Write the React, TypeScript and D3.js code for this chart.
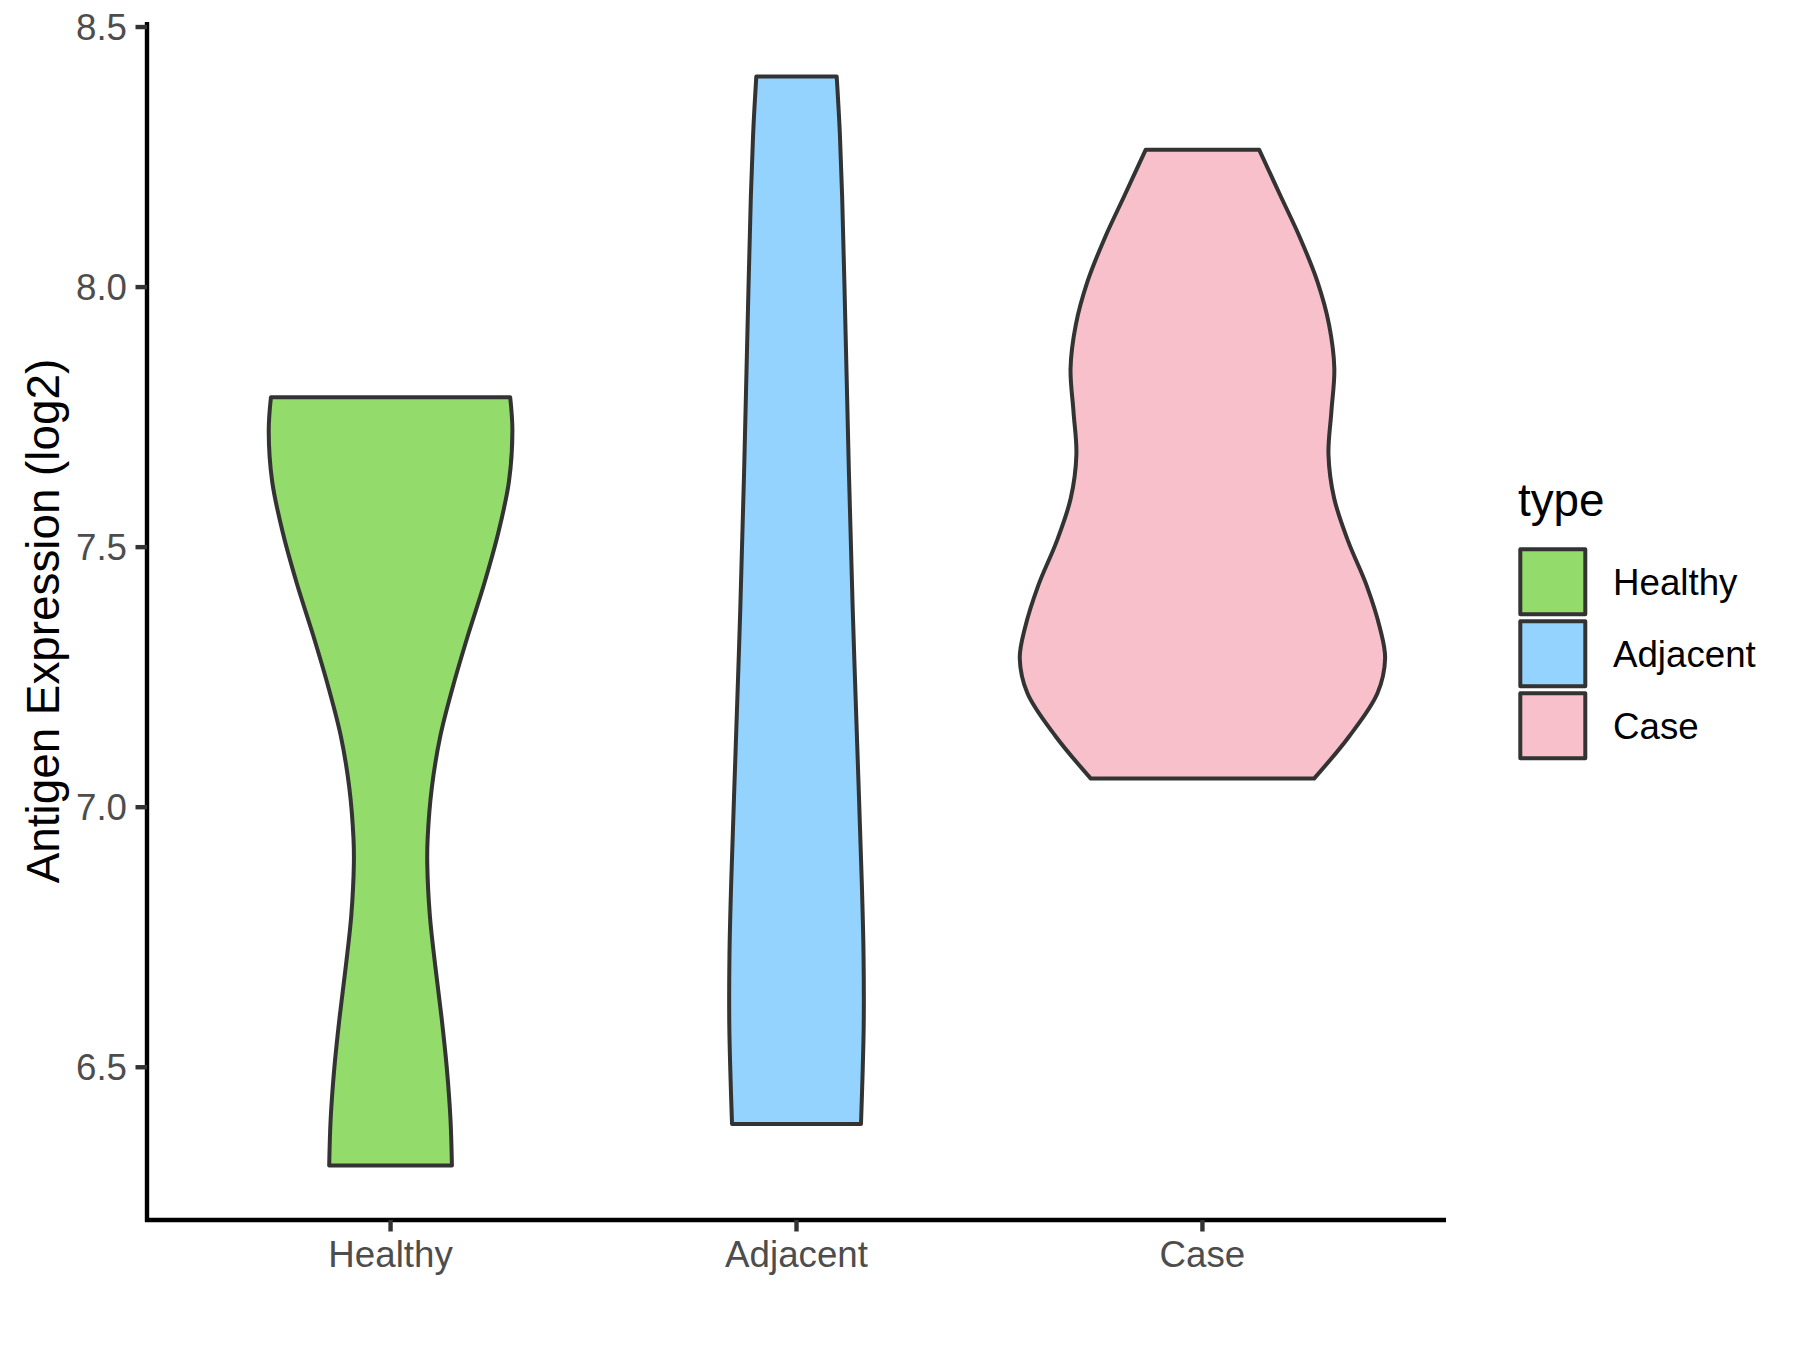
import React from "react";
import * as d3 from "d3";

const categories = ["Healthy", "Adjacent", "Case"];
const fills = ["#93DB6A", "#93D3FE", "#F7C0CB"];

// violin outlines: value (log2) and relative half-width (1 = widest)
const healthyY = [6.311, 6.4, 6.498, 6.596, 6.694, 6.792, 6.89, 6.94, 7.038, 7.136, 7.234, 7.332, 7.43, 7.528, 7.626, 7.724, 7.788];
const healthyW = [0.336, 0.328, 0.308, 0.279, 0.245, 0.215, 0.201, 0.203, 0.226, 0.272, 0.343, 0.425, 0.513, 0.59, 0.648, 0.667, 0.655];

const adjacentY = [6.391, 6.478, 6.583, 6.716, 6.849, 7.113, 7.378, 7.643, 7.908, 8.173, 8.305, 8.405];
const adjacentW = [0.353, 0.361, 0.368, 0.367, 0.358, 0.333, 0.308, 0.287, 0.269, 0.25, 0.236, 0.22];

const caseY = [7.055, 7.136, 7.219, 7.286, 7.344, 7.427, 7.511, 7.594, 7.678, 7.761, 7.844, 7.928, 8.011, 8.095, 8.178, 8.264];
const caseW = [0.611, 0.803, 0.958, 1.0, 0.972, 0.898, 0.798, 0.721, 0.69, 0.706, 0.722, 0.693, 0.629, 0.534, 0.424, 0.311];

const yTicks = [6.5, 7.0, 7.5, 8.0, 8.5];

const violins = [
  { ys: healthyY, ws: healthyW },
  { ys: adjacentY, ws: adjacentW },
  { ys: caseY, ws: caseW },
];

export default function App() {
  const W = 1800, H = 1350;
  const left = 147, right = 1446, top = 22, bottom = 1220;
  const allY = [...healthyY, ...adjacentY, ...caseY];
  const yMin = d3.min(allY) as number, yMax = d3.max(allY) as number;
  const pad = (yMax - yMin) * 0.05;
  const y = d3.scaleLinear().domain([yMin - pad, yMax + pad]).range([bottom, top]);
  const x = d3.scalePoint().domain(categories).range([left, right]).padding(0.6);
  const step = x.step();
  const wScale = d3.scaleLinear().domain([0, 1]).range([0, 0.45 * step]);
  const fmt = d3.format(".1f");
  const font = "'Liberation Sans', Arial, sans-serif";
  const stroke = "#333333";

  return (
    <svg width={W} height={H} style={{ position: "absolute", left: 0, top: 0, background: "#fff" }} fontFamily={font}>
      <rect x={0} y={0} width={W} height={H} fill="#fff" />
      {violins.map((v, i) => {
        const cx = x(categories[i]) as number;
        const pts = v.ys.map((yy, j) => ({ y: yy, w: v.ws[j] }));
        const area = d3
          .area<{ y: number; w: number }>()
          .y((d) => y(d.y))
          .x0((d) => cx - wScale(d.w))
          .x1((d) => cx + wScale(d.w))
          .curve(d3.curveCatmullRom.alpha(0.5));
        return (
          <path key={i} d={area(pts) || ""} fill={fills[i]} stroke={stroke} strokeWidth={4} strokeLinejoin="round" />
        );
      })}
      {/* axes */}
      <line x1={left} x2={left} y1={top} y2={bottom + 2} stroke="#000" strokeWidth={4.4} />
      <line x1={left - 2} x2={right} y1={bottom} y2={bottom} stroke="#000" strokeWidth={4.4} />
      {yTicks.map((t) => (
        <g key={t}>
          <line x1={left - 11.5} x2={left} y1={y(t)} y2={y(t)} stroke={stroke} strokeWidth={4.4} />
          <text x={left - 20} y={y(t)} dy="0.36em" textAnchor="end" fontSize={36.7} fill="#4D4D4D">
            {fmt(t)}
          </text>
        </g>
      ))}
      {categories.map((c) => (
        <g key={c}>
          <line x1={x(c)} x2={x(c)} y1={bottom} y2={bottom + 11.5} stroke={stroke} strokeWidth={4.4} />
          <text x={x(c)} y={bottom + 47} textAnchor="middle" fontSize={36.7} fill="#4D4D4D">
            {c}
          </text>
        </g>
      ))}
      <text
        transform={`translate(42,${(top + bottom) / 2}) rotate(-90)`}
        textAnchor="middle"
        dy="0.36em"
        fontSize={45.8}
        fill="#000"
      >
        Antigen Expression (log2)
      </text>
      {/* legend */}
      <text x={1518} y={516} fontSize={45.8} fill="#000">
        type
      </text>
      {categories.map((c, i) => {
        const ky = 545.8 + i * 72;
        const kx = 1516.8;
        return (
          <g key={c}>
            <rect x={kx + 3.5} y={ky + 3.5} width={65} height={65} fill={fills[i]} stroke={stroke} strokeWidth={4} strokeLinejoin="round" />
            <text x={1613} y={ky + 36} dy="0.36em" fontSize={36.7} fill="#000">
              {c}
            </text>
          </g>
        );
      })}
    </svg>
  );
}
